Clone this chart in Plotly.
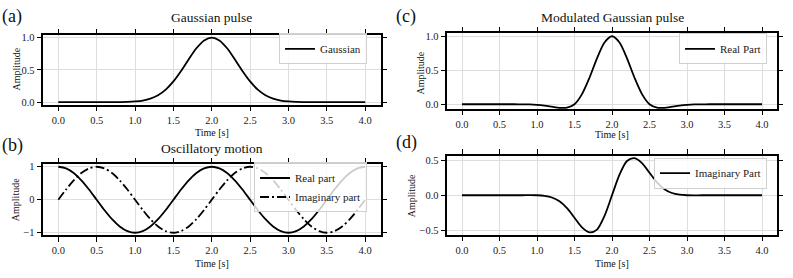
import plotly.graph_objects as go

# ---------------- data ----------------
time_s = [0.0, 0.1, 0.2, 0.3, 0.4, 0.5, 0.6, 0.7, 0.8, 0.9,
          1.0, 1.1, 1.2, 1.3, 1.4, 1.5, 1.6, 1.7, 1.8, 1.9,
          2.0, 2.1, 2.2, 2.3, 2.4, 2.5, 2.6, 2.7, 2.8, 2.9,
          3.0, 3.1, 3.2, 3.3, 3.4, 3.5, 3.6, 3.7, 3.8, 3.9, 4.0]

gaussian = [0.0, 0.0, 0.0, 0.0, 0.0, 0.0, 0.0, 0.0005, 0.0014, 0.004,
            0.011, 0.025, 0.055, 0.108, 0.195, 0.321, 0.483, 0.664, 0.834, 0.956,
            1.0, 0.956, 0.834, 0.664, 0.483, 0.321, 0.195, 0.108, 0.055, 0.025,
            0.011, 0.004, 0.0014, 0.0005, 0.0, 0.0, 0.0, 0.0, 0.0, 0.0, 0.0]

osc_real = [1.0, 0.951, 0.809, 0.588, 0.309, 0.0, -0.309, -0.588, -0.809, -0.951,
            -1.0, -0.951, -0.809, -0.588, -0.309, 0.0, 0.309, 0.588, 0.809, 0.951,
            1.0, 0.951, 0.809, 0.588, 0.309, 0.0, -0.309, -0.588, -0.809, -0.951,
            -1.0, -0.951, -0.809, -0.588, -0.309, 0.0, 0.309, 0.588, 0.809, 0.951, 1.0]

osc_imag = [0.0, 0.309, 0.588, 0.809, 0.951, 1.0, 0.951, 0.809, 0.588, 0.309,
            0.0, -0.309, -0.588, -0.809, -0.951, -1.0, -0.951, -0.809, -0.588, -0.309,
            0.0, 0.309, 0.588, 0.809, 0.951, 1.0, 0.951, 0.809, 0.588, 0.309,
            0.0, -0.309, -0.588, -0.809, -0.951, -1.0, -0.951, -0.809, -0.588, -0.309, 0.0]

mod_real = [0.0, 0.0, 0.0, 0.0, 0.0, 0.0, 0.0, 0.0, -0.001, -0.003,
            -0.009, -0.020, -0.036, -0.052, -0.050, 0.0, 0.149, 0.390, 0.675, 0.909,
            1.0, 0.909, 0.675, 0.390, 0.149, 0.0, -0.050, -0.052, -0.036, -0.020,
            -0.009, -0.003, -0.001, 0.0, 0.0, 0.0, 0.0, 0.0, 0.0, 0.0, 0.0]

mod_imag = [0.0, 0.0, 0.0, 0.0, 0.0, 0.0, 0.0, 0.0, 0.0, 0.001,
            0.0, -0.008, -0.032, -0.087, -0.185, -0.321, -0.459, -0.530, -0.490, -0.295,
            0.0, 0.295, 0.490, 0.530, 0.459, 0.321, 0.185, 0.087, 0.032, 0.008,
            0.0, -0.001, 0.0, 0.0, 0.0, 0.0, 0.0, 0.0, 0.0, 0.0, 0.0]

x_ticks = [0.0, 0.5, 1.0, 1.5, 2.0, 2.5, 3.0, 3.5, 4.0]
y_ticks_a = [0.0, 0.5, 1.0]
y_ticks_b = [-1, 0, 1]
y_ticks_c = [0.0, 0.5, 1.0]
y_ticks_d = [-0.5, 0.0, 0.5]

panel_titles = ["Gaussian pulse", "Oscillatory motion", "Modulated Gaussian pulse", ""]
panel_labels = ["(a)", "(b)", "(c)", "(d)"]

# ---------------- styling ----------------
W, H = 793, 278
FONT = "Liberation Serif"
LINE_W = 1.8
TICK_SIZE = 10.5


def px_x(p):
    return p / W


def px_y(p):
    return 1 - p / H


def xaxis(dom, anchor):
    return dict(domain=[px_x(dom[0]), px_x(dom[1])], range=[-0.2, 4.2], anchor=anchor,
                tickvals=x_ticks, tickformat=".1f",
                showline=True, linecolor="black", linewidth=1.6, mirror="ticks",
                ticks="outside", ticklen=4.5, tickwidth=1, tickcolor="black",
                showgrid=True, gridcolor="#dedede", gridwidth=0.8, zeroline=False,
                tickfont=dict(family=FONT, size=TICK_SIZE, color="#222"))


def yaxis(dom, anchor, rng, ticks, fmt):
    return dict(domain=[px_y(dom[1]), px_y(dom[0])], range=rng, anchor=anchor,
                tickvals=ticks, tickformat=fmt,
                showline=True, linecolor="black", linewidth=1.6, mirror="ticks",
                ticks="outside", ticklen=4.5, tickwidth=1, tickcolor="black",
                showgrid=True, gridcolor="#dedede", gridwidth=0.8, zeroline=False,
                tickfont=dict(family=FONT, size=TICK_SIZE, color="#222"))


fig = go.Figure()

line = dict(color="black", width=LINE_W, shape="spline", smoothing=0.8)

fig.add_trace(go.Scatter(x=time_s, y=gaussian, mode="lines", name="Gaussian",
                         line=line, xaxis="x", yaxis="y", legend="legend"))
fig.add_trace(go.Scatter(x=time_s, y=osc_real, mode="lines", name="Real part",
                         line=line, xaxis="x2", yaxis="y2", legend="legend2"))
fig.add_trace(go.Scatter(x=time_s, y=osc_imag, mode="lines", name="Imaginary part",
                         line=dict(line, dash="9px,3px,2px,3px"),
                         xaxis="x2", yaxis="y2", legend="legend2"))
fig.add_trace(go.Scatter(x=time_s, y=mod_real, mode="lines", name="Real Part",
                         line=line, xaxis="x3", yaxis="y3", legend="legend3"))
fig.add_trace(go.Scatter(x=time_s, y=mod_imag, mode="lines", name="Imaginary Part",
                         line=line, xaxis="x4", yaxis="y4", legend="legend4"))

# panel frames in pixels (left, right) and (top, bottom)
AX = (43, 380.5)
CX = (447, 777)
A_Y = (33, 104)
B_Y = (165, 237.5)
C_Y = (31, 108.5)
D_Y = (156, 237.3)


def legend(right_px, top_px):
    return dict(x=px_x(right_px), xanchor="right", y=px_y(top_px), yanchor="top",
                bgcolor="rgba(255,255,255,0.8)", bordercolor="#d0d0d0", borderwidth=1,
                font=dict(family=FONT, size=11, color="#222"), itemwidth=30,
                tracegroupgap=0)


fig.update_layout(
    width=W, height=H, margin=dict(l=0, r=0, t=0, b=0),
    paper_bgcolor="white", plot_bgcolor="white",
    font=dict(family=FONT, color="#222"),
    xaxis=xaxis(AX, "y"),
    yaxis=yaxis(A_Y, "x", [-0.04, 1.035], y_ticks_a, ".1f"),
    xaxis2=xaxis(AX, "y2"),
    yaxis2=yaxis(B_Y, "x2", [-1.08, 1.07], y_ticks_b, "d"),
    xaxis3=xaxis(CX, "y3"),
    yaxis3=yaxis(C_Y, "x3", [-0.072, 1.043], y_ticks_c, ".1f"),
    xaxis4=xaxis(CX, "y4"),
    yaxis4=yaxis(D_Y, "x4", [-0.57, 0.566], y_ticks_d, ".1f"),
    legend=legend(367, 31),
    legend2=legend(367, 163),
    legend3=legend(767, 31),
    legend4=legend(767, 158),
    showlegend=True,
)

ann = []


def text(x, y, s, size, angle=0, xanchor="center"):
    ann.append(dict(x=px_x(x), y=px_y(y), xref="paper", yref="paper", text=s,
                    showarrow=False, xanchor=xanchor, yanchor="middle", textangle=angle,
                    font=dict(family=FONT, size=size, color="#111")))


# panel labels
text(0, 14, panel_labels[0], 18, xanchor="left")
text(0, 146, panel_labels[1], 18, xanchor="left")
text(394, 14, panel_labels[2], 18, xanchor="left")
text(394, 143, panel_labels[3], 18, xanchor="left")

# titles
text((AX[0] + AX[1]) / 2, 15, panel_titles[0], 13.5)
text((AX[0] + AX[1]) / 2, 149, panel_titles[1], 13.5)
text((CX[0] + CX[1]) / 2, 15, panel_titles[2], 13.5)

# axis titles
text((AX[0] + AX[1]) / 2, 132, "Time [s]", 10)
text((AX[0] + AX[1]) / 2, 266, "Time [s]", 10)
text((CX[0] + CX[1]) / 2, 134, "Time [s]", 10)
text((CX[0] + CX[1]) / 2, 266, "Time [s]", 10)
text(17, 68, "Amplitude", 10, angle=-90)
text(15.5, 201, "Amplitude", 10, angle=-90)
text(420, 71, "Amplitude", 10, angle=-90)
text(411.5, 197, "Amplitude", 10, angle=-90)

fig.update_layout(annotations=ann)

fig.write_html("out.html", config={"displayModeBar": False},
               post_script="document.body.style.margin='0';")
